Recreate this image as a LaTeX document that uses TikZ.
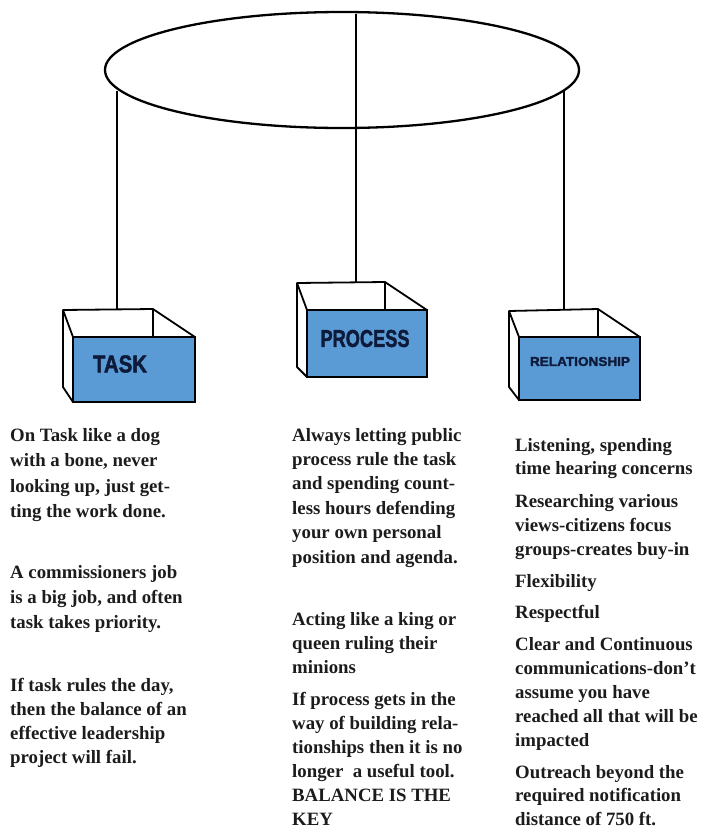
\documentclass[tikz,border=0pt]{standalone}
\usepackage{graphicx}
\usepackage{fontspec}
\setmainfont{Liberation Serif}
\newfontfamily\labelfont[BoldFeatures={FakeBold=2}]{Liberation Sans}
\usetikzlibrary{shapes.geometric}
\definecolor{boxblue}{RGB}{91,155,213}
\definecolor{labelnavy}{RGB}{14,26,58}
\definecolor{txt}{RGB}{28,28,28}
\begin{document}
\begin{tikzpicture}[x=1pt,y=-1pt,
  ringstyle/.style={ellipse,draw,line width=2.3pt,inner sep=0,minimum width=474pt,minimum height=116pt},
  link/.style={line width=2pt},
  edge/.style={line width=1.8pt,line join=round},
  face/.style={draw,line width=1.8pt,fill=boxblue,inner sep=0},
  lbl/.style={inner sep=0,text=labelnavy,font=\labelfont\bfseries},
  para/.style={anchor=base west,align=left,inner sep=0,text=txt,font=\bfseries\fontsize{18.8}{#1}\selectfont}]
\useasboundingbox (0,0) rectangle (705,828);
\fill[white] (0,0) rectangle (705,828);
% ring
\node[ringstyle] (ring) at (342,70) {};
\coordinate (ringL) at (117,91);
\coordinate (ringM) at (356,14);
\coordinate (ringR) at (564,91);
% back-edge coordinates
\coordinate (taskBack) at (117,310);
\coordinate (procBack) at (356,283);
\coordinate (relBack) at (564,310);
% TASK box
\draw[edge] (73,402) -- (63,387) -- (63,310) -- (153,309) -- (195,337);
\draw[edge] (63,310) -- (73,337);
\draw[edge] (153,309) -- (153,337);
\node[face,minimum width=122pt,minimum height=65pt] (task) at (134,369.5) {};
\node[lbl] (taskLabel) at (120,364) {\resizebox{54pt}{17pt}{TASK}};
% PROCESS box
\draw[edge] (307,377) -- (297,367) -- (297,283) -- (385,282) -- (427,310);
\draw[edge] (297,283) -- (307,310);
\draw[edge] (385,282) -- (385,310);
\node[face,minimum width=120pt,minimum height=67pt] (process) at (367,343.5) {};
\node[lbl] (processLabel) at (365,338.5) {\resizebox{89pt}{17pt}{PROCESS}};
% RELATIONSHIP box
\draw[edge] (519,400) -- (509,387) -- (509,311) -- (598,309) -- (640,337);
\draw[edge] (509,311) -- (519,337);
\draw[edge] (598,309) -- (598,337);
\node[face,minimum width=121pt,minimum height=63pt] (relationship) at (579.5,368.5) {};
\node[lbl] (relLabel) at (580,361.5) {\resizebox{100pt}{9pt}{RELATIONSHIP}};
% connectors
\draw[link] (ringL) -- (taskBack);
\draw[link] (ringM) -- (procBack);
\draw[link] (ringR) -- (relBack);
% left column (anchored at the baseline of the last line)
\node[para=25.5] (t1) at (10,517.5) {On Task like a dog\\with a bone, never\\looking up, just get-\\ting the work done.};
\node[para=25] (t2) at (10,628) {A commissioners job\\is a big job, and often\\task takes priority.};
\node[para=23.7] (t3) at (10,763) {If task rules the day,\\then the balance of an\\effective leadership\\project will fail.};
% middle column
\node[para=24.4] (p1) at (292,563) {Always letting public\\process rule the task\\and spending count-\\less hours defending\\your own personal\\position and agenda.};
\node[para=24] (p2) at (292,673) {Acting like a king or\\queen ruling their\\minions};
\node[para=24] (p3) at (292,825) {If process gets in the\\way of building rela-\\tionships then it is no\\longer\ \ a useful tool.\\BALANCE IS THE\\KEY};
% right column
\node[para=23] (r1) at (515,474) {Listening, spending\\time hearing concerns};
\node[para=24] (r2) at (515,555) {Researching various\\views-citizens focus\\groups-creates buy-in};
\node[para=24] (r3) at (515,587) {Flexibility};
\node[para=24] (r4) at (515,618) {Respectful};
\node[para=24] (r5) at (515,746) {Clear and Continuous\\communications-don't\\assume you have\\reached all that will be\\impacted};
\node[para=23.5] (r6) at (515,825) {Outreach beyond the\\required notification\\distance of 750 ft.};
\end{tikzpicture}
\end{document}
